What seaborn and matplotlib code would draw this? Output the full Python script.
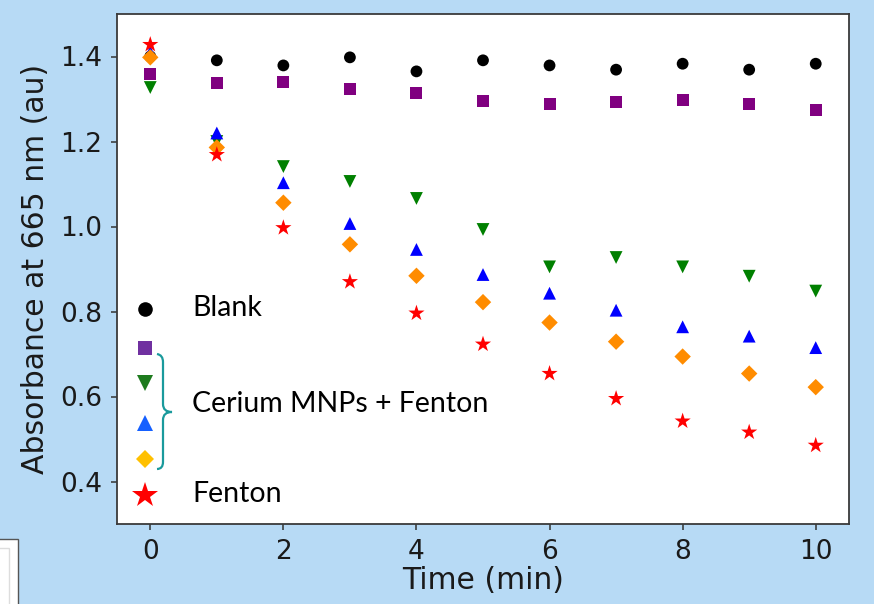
import numpy as np
import pandas as pd
import matplotlib
matplotlib.use("Agg")
import matplotlib.pyplot as plt
from matplotlib.path import Path
from matplotlib.patches import PathPatch, Rectangle
import seaborn as sns

# ---------------- data ----------------
time_min = [0, 1, 2, 3, 4, 5, 6, 7, 8, 9, 10]
blank = [1.400, 1.391, 1.379, 1.398, 1.365, 1.391, 1.379, 1.369, 1.383, 1.369, 1.383]
cerium_a = [1.358, 1.337, 1.339, 1.323, 1.315, 1.296, 1.289, 1.292, 1.297, 1.288, 1.275]
cerium_b = [1.327, 1.200, 1.141, 1.106, 1.066, 0.993, 0.905, 0.927, 0.905, 0.883, 0.848]
cerium_c = [1.410, 1.220, 1.103, 1.007, 0.946, 0.887, 0.843, 0.803, 0.764, 0.742, 0.715]
cerium_d = [1.398, 1.186, 1.056, 0.958, 0.884, 0.822, 0.774, 0.729, 0.694, 0.654, 0.622]
fenton = [1.428, 1.169, 0.997, 0.870, 0.796, 0.723, 0.654, 0.595, 0.542, 0.516, 0.485]

series_names = ["Blank", "Ce-A", "Ce-B", "Ce-C", "Ce-D", "Fenton"]
series_values = [blank, cerium_a, cerium_b, cerium_c, cerium_d, fenton]
x_ticks = [0, 2, 4, 6, 8, 10]
y_ticks = [0.4, 0.6, 0.8, 1.0, 1.2, 1.4]
legend_labels = ["Blank", "Cerium MNPs + Fenton", "Fenton"]

# ---------------- styles ----------------
palette = {"Blank": "black", "Ce-A": "purple", "Ce-B": "green",
           "Ce-C": "blue", "Ce-D": "darkorange", "Fenton": "red"}
markers = {"Blank": "o", "Ce-A": "s", "Ce-B": "v",
           "Ce-C": "^", "Ce-D": "D", "Fenton": "*"}
sizes = {"Blank": 72, "Ce-A": 75, "Ce-B": 85, "Ce-C": 85, "Ce-D": 70, "Fenton": 150}

df = pd.concat([pd.DataFrame({"time": time_min, "abs": v, "series": n})
                for n, v in zip(series_names, series_values)], ignore_index=True)

W, H = 874, 604
BG = "#b7daf5"
fig = plt.figure(figsize=(W / 100, H / 100), dpi=100, facecolor=BG)
ax = fig.add_axes([117 / W, 1 - 524 / H, 732 / W, 510 / H])
ax.set_facecolor("white")

sns.scatterplot(data=df, x="time", y="abs", hue="series", style="series",
                size="series", sizes=sizes, palette=palette, markers=markers,
                linewidth=0, legend=False, ax=ax)

ax.set_xlim(-0.5, 10.5)
ax.set_ylim(0.30, 1.50)
ax.set_xticks(x_ticks)
ax.set_xticklabels([str(t) for t in x_ticks])
ax.set_yticks(y_ticks)
ax.set_yticklabels([f"{t:.1f}" for t in y_ticks])
ax.tick_params(labelsize=19, length=4.5, width=1.1, color="#333333",
               labelcolor="#1a1a1a", pad=6)
for sp in ax.spines.values():
    sp.set_color("#3a3a3a")
    sp.set_linewidth(1.3)

ax.set_xlabel("Time (min)", fontsize=21.5, color="#1a1a1a")
ax.set_ylabel("Absorbance at 665 nm (au)", fontsize=21.5, color="#1a1a1a")
ax.xaxis.set_label_coords(0.5, -0.083)
ax.yaxis.set_label_coords(-0.092, 0.5)

# --------- hand-made legend overlay ---------
def px(x, y):
    return (x / W, 1 - y / H)

leg_markers = [("o", "black", 10.5, 309), ("s", "#7030a0", 9.5, 348),
               ("v", "#1e7b1e", 11, 383), ("^", "#1560ff", 11, 423),
               ("D", "#ffc000", 9, 459), ("*", "red", 19, 495)]
for m, c, ms, yy in leg_markers:
    fx, fy = px(145, yy)
    fig.lines.append(plt.Line2D([fx], [fy], marker=m, color=c, markersize=ms,
                                markeredgewidth=0, linestyle="none",
                                transform=fig.transFigure))

text_y = [308, 404, 494]
for lab, yy in zip(legend_labels, text_y):
    fx, fy = px(192, yy)
    fig.text(fx, fy, lab, fontsize=20.5, family="Lato", color="black",
             ha="left", va="center")

# brace
verts = [px(157, 354), px(163, 355), px(163, 362),
         px(163, 404),
         px(163, 412), px(172, 412),
         px(163, 412), px(163, 420),
         px(163, 462),
         px(163, 469), px(157, 469)]
codes = [Path.MOVETO, Path.CURVE3, Path.CURVE3,
         Path.LINETO,
         Path.CURVE3, Path.CURVE3,
         Path.CURVE3, Path.CURVE3,
         Path.LINETO,
         Path.CURVE3, Path.CURVE3]
fig.patches.append(PathPatch(Path(verts, codes), facecolor="none",
                             edgecolor="#1a9a9c", linewidth=1.6,
                             transform=fig.transFigure))

# stray white box at bottom-left
x0, y0 = px(-3, 606)
fig.patches.append(Rectangle((x0, y0), 20.5 / W, 67 / H, facecolor="white",
                             edgecolor="#555555", linewidth=1.0,
                             transform=fig.transFigure))
x1, y1 = px(-3, 606)
fig.patches.append(Rectangle((x1, y1), 12 / W, 58 / H, facecolor="none",
                             edgecolor="#dddddd", linewidth=1.0,
                             transform=fig.transFigure))

fig.savefig("out.png", dpi=100, facecolor=BG)
